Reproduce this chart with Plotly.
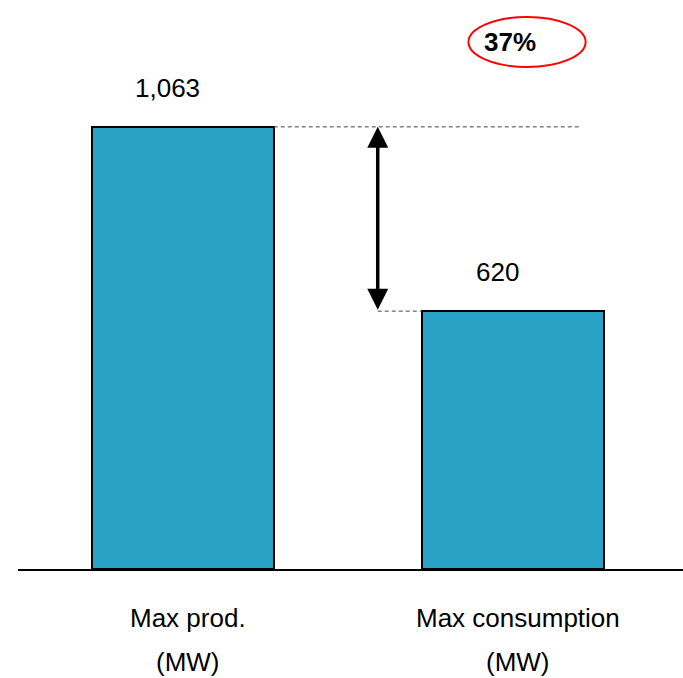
import plotly.graph_objects as go

# Chart data
categories = ["Max prod.", "Max consumption"]
units = ["(MW)", "(MW)"]
values = [1063, 620]
value_labels = ["1,063", "620"]
gap_label = "37%"

bar_color = "#29A3C5"
font_family = "Liberation Sans, Arial, sans-serif"
bar_width = 0.55
x_pos = list(range(len(categories)))

fig = go.Figure()
fig.add_trace(go.Bar(
    x=x_pos, y=values, width=bar_width,
    marker=dict(color=bar_color, line=dict(color="black", width=2)),
    hoverinfo="skip", showlegend=False,
))

annotations = []
# Value labels above each bar
for xi, v, lab in zip(x_pos, values, value_labels):
    annotations.append(dict(x=xi, y=v, text=lab, showarrow=False, xref="x", yref="y",
                            yanchor="middle", yshift=39, xshift=-16,
                            font=dict(size=26, color="black", family=font_family)))
# Category labels under the axis (two lines, widely spaced)
for xi, cat, unit in zip(x_pos, categories, units):
    annotations.append(dict(x=xi, y=0, text=cat, showarrow=False, xref="x", yref="y",
                            yanchor="middle", yshift=-49, xshift=5,
                            font=dict(size=26, color="black", family=font_family)))
    annotations.append(dict(x=xi, y=0, text=unit, showarrow=False, xref="x", yref="y",
                            yanchor="middle", yshift=-93, xshift=5,
                            font=dict(size=26, color="black", family=font_family)))

# Double-headed arrow showing the gap between the two bars
arrow_x = 0.59
annotations.append(dict(x=arrow_x, y=values[0], ax=arrow_x, ay=values[1],
                        xref="x", yref="y", axref="x", ayref="y", text="",
                        showarrow=True, arrowhead=2, startarrowhead=2,
                        arrowside="end+start", arrowsize=1.2, startarrowsize=1.2,
                        arrowwidth=3.5, arrowcolor="black"))

# Percentage label inside the red ellipse
annotations.append(dict(x=0.99, y=1267, text="<b>" + gap_label + "</b>", showarrow=False,
                        xref="x", yref="y",
                        font=dict(size=26, color="black", family=font_family)))

shapes = [
    # dashed reference lines at both bar heights
    dict(type="line", xref="x", yref="y", x0=bar_width / 2, x1=1.2,
         y0=values[0], y1=values[0], line=dict(color="#444444", width=1, dash="4px,3px")),
    dict(type="line", xref="x", yref="y", x0=arrow_x, x1=1 - bar_width / 2,
         y0=values[1], y1=values[1], line=dict(color="#444444", width=1, dash="4px,3px")),
    # red ellipse around the percentage
    dict(type="circle", xref="x", yref="y", x0=0.865, x1=1.22, y0=1207, y1=1327,
         line=dict(color="red", width=2)),
]

fig.update_layout(
    width=683, height=678,
    margin=dict(l=18, r=0, t=10, b=109),
    plot_bgcolor="white", paper_bgcolor="white",
    xaxis=dict(range=[-0.5, 1.515], showgrid=False, zeroline=False, showticklabels=False,
               ticks="", showline=True, linecolor="black", linewidth=2, fixedrange=True),
    yaxis=dict(range=[0, 1344], showgrid=False, zeroline=False, showticklabels=False,
               ticks="", showline=False, fixedrange=True),
    annotations=annotations,
    shapes=shapes,
    bargap=0,
)

fig.write_html("out.html", config={"displayModeBar": False})
